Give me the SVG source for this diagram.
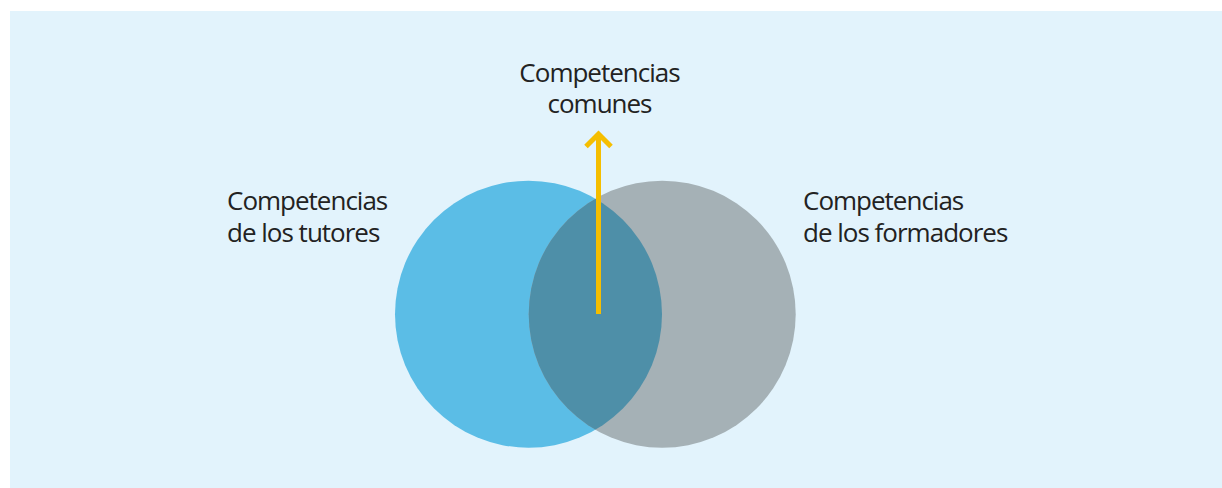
<svg xmlns="http://www.w3.org/2000/svg" width="1222" height="488" viewBox="0 0 1222 488">
  <style>
    .lbl { font-family: "Open Sans", "Noto Sans", "Liberation Sans", sans-serif; font-size: 26px; font-weight: 400; fill: #222222; letter-spacing: -1px; }
    .arrow { fill: none; stroke: #F5BE00; stroke-width: 5; }
  </style>
  <defs>
    <clipPath id="clipLeft">
      <circle cx="528.5" cy="314.2" r="133.5"/>
    </clipPath>
  </defs>
  <rect x="10" y="11" width="1212" height="477" fill="#E2F3FC"/>
  <g id="tutores">
    <circle cx="528.5" cy="314.2" r="133.5" fill="#5BBDE6"/>
    <text class="lbl" x="227" y="210">Competencias</text>
    <text class="lbl" x="227" y="241.5">de los tutores</text>
  </g>
  <g id="formadores">
    <circle cx="662.2" cy="314.2" r="133.5" fill="#A5B1B6"/>
    <text class="lbl" x="803" y="210">Competencias</text>
    <text class="lbl" x="803" y="241.5">de los formadores</text>
  </g>
  <g id="comunes">
    <circle cx="662.2" cy="314.2" r="133.5" fill="#4E8FA8" clip-path="url(#clipLeft)"/>
    <text class="lbl" x="599.5" y="81.5" text-anchor="middle">Competencias</text>
    <text class="lbl" x="599.5" y="112.5" text-anchor="middle">comunes</text>
  </g>
  <g id="connectors">
    <line class="arrow" x1="598.5" y1="314" x2="598.5" y2="135"/>
    <polyline class="arrow" points="586,146.5 598.5,134 611,146.5" stroke-linejoin="miter"/>
  </g>
</svg>
